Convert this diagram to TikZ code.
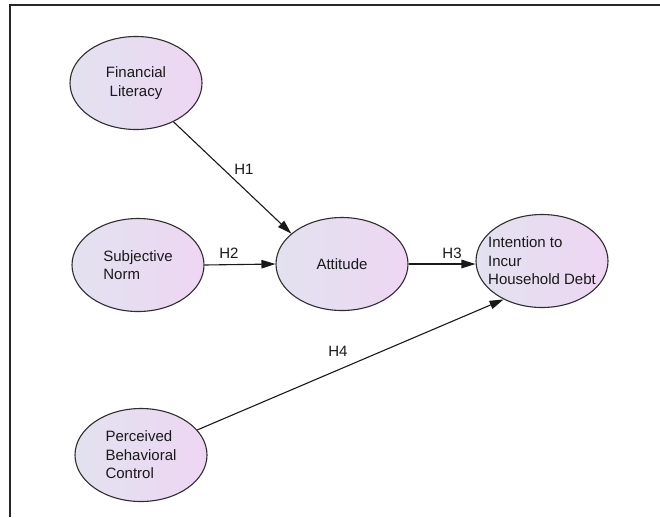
\documentclass[tikz,border=0pt]{standalone}
\usepackage{fontspec}
\setmainfont{Liberation Sans}
\usetikzlibrary{shapes.geometric,arrows.meta}
\definecolor{ellL}{HTML}{E2E2F0}
\definecolor{ellR}{HTML}{EED6F2}
\definecolor{edge}{HTML}{2E2E2E}
\tikzset{
  ell/.style={ellipse, draw=edge, line width=1.1pt, left color=ellL, right color=ellR,
    minimum width=132pt, minimum height=93pt, inner sep=0pt},
  txt/.style={font=\fontsize{15}{18.5}\selectfont, align=left, inner sep=0pt, text=black!90},
  lbl/.style={font=\fontsize{15}{18}\selectfont, inner sep=0pt, text=black!90},
  conn/.style={draw=black!90, line width=1.1pt, -{Triangle[length=14pt,width=8.5pt]}},
  frame/.style={line width=2pt, draw=black!85}
}
\begin{document}
\begin{tikzpicture}[x=1pt,y=-1pt]
\useasboundingbox (0,0) rectangle (660,517);
\draw[frame] (9.5,517) -- (9.5,4.5) -- (660,4.5);
\node[ell] (fl) at (136,83) {};
\node[ell] (sn) at (138,265) {};
\node[ell] (att) at (342,264) {};
\node[ell] (int) at (542,261) {};
\node[ell] (pbc) at (141,455) {};
\node[txt, align=center] (tfl) at (fl) {Financial\\Literacy};
\node[txt] (tsn) at (sn) {Subjective\\Norm};
\node[txt] (tatt) at (att) {Attitude};
\node[txt] (tint) at (int) {Intention to\\Incur\\Household Debt};
\node[txt] (tpbc) at (pbc) {Perceived\\Behavioral\\Control};
\draw[conn] (fl.314) -- (att.149);
\draw[conn] (sn.east) -- (att.west);
\draw[conn] (att.east) -- (att.east -| int.west);
\draw[conn] (pbc.24) -- (int.225);
\node[lbl] (h1) at (244,169) {H1};
\node[lbl] (h2) at (229,253) {H2};
\node[lbl] (h3) at (452,253) {H3};
\node[lbl] (h4) at (338,351) {H4};
\end{tikzpicture}
\end{document}
